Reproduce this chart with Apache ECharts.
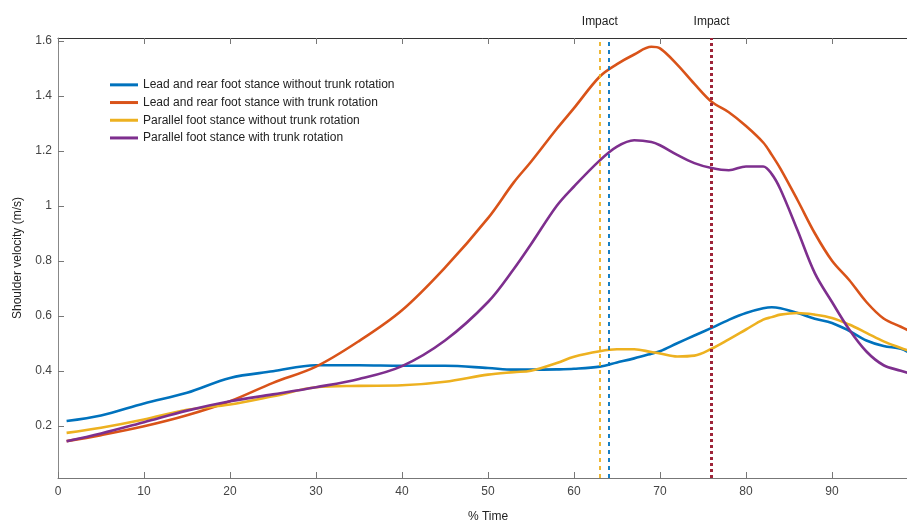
<!DOCTYPE html>
<html>
<head>
<meta charset="utf-8">
<style>
  html, body { margin: 0; padding: 0; background: #fff; }
  #chart { width: 907px; height: 522px; }
</style>
<script src="https://cdn.jsdelivr.net/npm/echarts@6/dist/echarts.min.js"></script>
</head>
<body>
<div id="chart"></div>
<script>
// % time samples
var timePct = [1, 5, 10, 15, 20, 25, 30, 35, 40, 45, 50, 53, 55, 58, 60, 63, 65, 67, 69, 70,
  72, 74, 76, 78, 80, 82, 83, 84, 86, 88, 90, 92, 94, 96, 98, 99];

var leadNoRot = [0.217, 0.237, 0.281, 0.32, 0.374, 0.398, 0.42, 0.42, 0.418, 0.418, 0.41, 0.404,
  0.404, 0.405, 0.407, 0.415, 0.43, 0.445, 0.462, 0.471, 0.5, 0.528, 0.556, 0.585, 0.61, 0.627,
  0.631, 0.627, 0.61, 0.589, 0.574, 0.545, 0.51, 0.49, 0.48, 0.465];
var leadRot = [0.144, 0.166, 0.198, 0.238, 0.289, 0.356, 0.415, 0.508, 0.62, 0.775, 0.955, 1.085,
  1.16, 1.28, 1.355, 1.47, 1.515, 1.55, 1.578, 1.572, 1.513, 1.443, 1.378, 1.34, 1.29, 1.23,
  1.185, 1.135, 1.02, 0.9, 0.8, 0.73, 0.65, 0.59, 0.56, 0.545];
var parNoRot = [0.174, 0.193, 0.223, 0.258, 0.277, 0.307, 0.34, 0.345, 0.347, 0.36, 0.386, 0.395,
  0.4, 0.428, 0.451, 0.471, 0.478, 0.478, 0.468, 0.463, 0.452, 0.455, 0.48, 0.514, 0.55, 0.586,
  0.595, 0.604, 0.61, 0.604, 0.592, 0.568, 0.538, 0.507, 0.483, 0.472];
var parRot = [0.144, 0.172, 0.213, 0.255, 0.289, 0.314, 0.34, 0.37, 0.417, 0.51, 0.65, 0.77,
  0.86, 1.0, 1.07, 1.165, 1.215, 1.238, 1.232, 1.22, 1.185, 1.155, 1.137, 1.129, 1.143, 1.143,
  1.115, 1.06, 0.91, 0.755, 0.65, 0.55, 0.47, 0.42, 0.4, 0.39];

var seriesNames = [
  'Lead and rear foot stance without trunk rotation',
  'Lead and rear foot stance with trunk rotation',
  'Parallel foot stance without trunk rotation',
  'Parallel foot stance with trunk rotation'
];
var seriesColors = ['#0072BD', '#D95319', '#EDB120', '#7E2F8E'];
var yTicks = [0.2, 0.4, 0.6, 0.8, 1, 1.2, 1.4, 1.6];

// impact markers (% time)
var impactLead = 64;
var impactParallel = 63;
var impactTrunk = 76;

function pairs(ys) {
  return timePct.map(function (t, i) { return [t, ys[i]]; });
}

function impactLine(x, color, width, dash, withLabel) {
  return {
    silent: true,
    symbol: ['none', 'none'],
    animation: false,
    lineStyle: { color: color, width: width, type: dash },
    label: withLabel ? {
      show: true,
      position: 'end',
      distance: 10,
      formatter: 'Impact',
      color: '#222',
      fontSize: 12,
      fontFamily: 'Liberation Sans, Arial, sans-serif'
    } : { show: false },
    data: [{ xAxis: x }]
  };
}

var chartDom = document.getElementById('chart');
var myChart = echarts.init(chartDom);
var allData = [leadNoRot, leadRot, parNoRot, parRot];

var series = allData.map(function (d, i) {
  return {
    name: seriesNames[i],
    type: 'line',
    data: pairs(d),
    smooth: 0.35,
    symbol: 'none',
    lineStyle: { width: 2.6, color: seriesColors[i] },
    itemStyle: { color: seriesColors[i] },
    z: 3
  };
});
series[0].markLine = impactLine(impactLead, '#0072BD', 1.8, [4, 4], false);
series[2].markLine = impactLine(impactParallel, '#EDB120', 1.8, [4, 4], true);
series[3].markLine = impactLine(impactTrunk, '#9E2438', 3, [3, 3], true);

var option = {
  backgroundColor: '#fff',
  animation: false,
  textStyle: { fontFamily: 'Liberation Sans, Arial, sans-serif' },
  legend: {
    data: seriesNames,
    orient: 'vertical',
    left: 105,
    top: 73,
    icon: 'rect',
    itemWidth: 28,
    itemHeight: 3,
    itemGap: 4,
    textStyle: { color: '#222', fontSize: 12, lineHeight: 13.7 }
  },
  grid: { left: 58, top: 38, right: -11, bottom: 44, outerBoundsMode: 'none', containLabel: false },
  xAxis: [{
    type: 'value',
    min: 0,
    max: 100,
    interval: 10,
    name: '% Time',
    nameLocation: 'middle',
    nameGap: 33,
    nameTextStyle: { color: '#222', fontSize: 12 },
    axisLine: { show: true, lineStyle: { color: '#777', width: 1 } },
    axisTick: { show: true, inside: true, length: 6, lineStyle: { color: '#777' } },
    axisLabel: { color: '#444', fontSize: 12, margin: 8 },
    splitLine: { show: false }
  }, {
    type: 'value',
    position: 'top',
    min: 0,
    max: 100,
    interval: 10,
    axisLine: { show: true, lineStyle: { color: '#333', width: 1 } },
    axisTick: { show: true, inside: true, length: 6, lineStyle: { color: '#777' } },
    axisLabel: { show: false },
    splitLine: { show: false }
  }],
  yAxis: {
    type: 'value',
    min: 0.01,
    max: 1.61,
    name: 'Shoulder velocity (m/s)',
    nameLocation: 'middle',
    nameGap: 34,
    nameTextStyle: { color: '#222', fontSize: 12 },
    axisLine: { show: true, lineStyle: { color: '#888', width: 1 } },
    axisTick: { show: true, inside: true, length: 6, customValues: yTicks, lineStyle: { color: '#777' } },
    axisLabel: {
      color: '#444',
      fontSize: 12,
      margin: 6,
      customValues: yTicks,
      formatter: function (v) { return String(Math.round(v * 10) / 10); }
    },
    splitLine: { show: false }
  },
  series: series
};

option && myChart.setOption(option);
window.addEventListener('resize', function () {
  myChart.resize();
});
</script>
</body>
</html>
